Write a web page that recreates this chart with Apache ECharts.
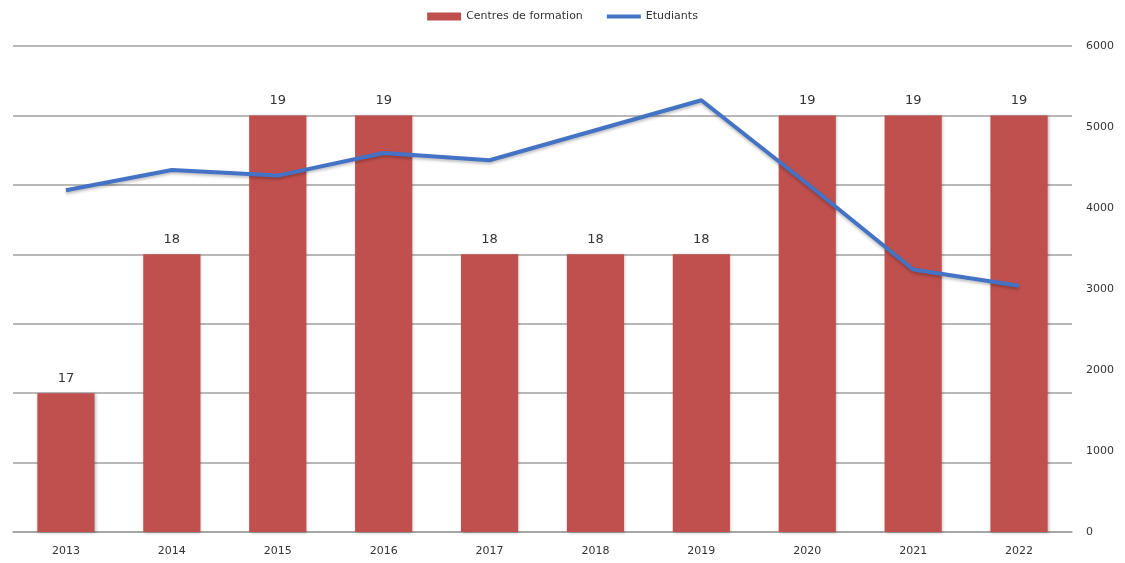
<!DOCTYPE html>
<html>
<head>
<meta charset="utf-8">
<script src="https://cdn.jsdelivr.net/npm/echarts@6/dist/echarts.min.js"></script>
<style>
html,body{margin:0;padding:0;background:#fff;}
#chart{width:1125px;height:563px;}
</style>
</head>
<body>
<div id="chart"></div>
<script>
const years = ['2013','2014','2015','2016','2017','2018','2019','2020','2021','2022'];
const centres = [17,18,19,19,18,18,18,19,19,19];
const etudiants = [4220,4470,4400,4680,4590,4960,5330,4300,3240,3040];
const rightTicks = [0,1000,2000,3000,4000,5000,6000];

const chart = echarts.init(document.getElementById('chart'));
chart.setOption({
  animation: false,
  textStyle: { fontFamily: 'DejaVu Sans' },
  legend: {
    top: 6,
    left: 'center',
    itemWidth: 34,
    itemHeight: 8,
    itemGap: 22,
    textStyle: { fontSize: 11, color: '#333', fontFamily: 'DejaVu Sans' },
    data: [
      { name: 'Centres de formation', icon: 'rect' },
      { name: 'Etudiants', itemStyle: { color: 'transparent', borderColor: 'transparent', borderWidth: 0, opacity: 0 }, lineStyle: { width: 4, color: '#4472C4', shadowBlur: 0 } }
    ]
  },
  grid: { left: 13, right: 53, top: 46, bottom: 31 },
  xAxis: {
    type: 'category',
    data: years,
    axisLine: { show: true, lineStyle: { color: '#a0a0a0', width: 1.5 } },
    axisTick: { show: false },
    axisLabel: { fontSize: 11, color: '#333', margin: 14 }
  },
  yAxis: [
    {
      type: 'value',
      min: 16, max: 19.5, interval: 0.5,
      axisLabel: { show: false },
      axisLine: { show: false },
      axisTick: { show: false },
      splitLine: { show: true, lineStyle: { color: '#a0a0a0', width: 1.5 } }
    },
    {
      type: 'value',
      position: 'right',
      min: rightTicks[0], max: rightTicks[rightTicks.length - 1], interval: 1000,
      axisLabel: { fontSize: 11, color: '#333', margin: 14, formatter: function (v) { return String(v); } },
      axisLine: { show: false },
      axisTick: { show: false },
      splitLine: { show: false }
    }
  ],
  series: [
    {
      name: 'Centres de formation',
      type: 'bar',
      data: centres,
      yAxisIndex: 0,
      barWidth: '54%',
      itemStyle: { color: '#C0504D', shadowColor: 'rgba(0,0,0,0.25)', shadowBlur: 3, shadowOffsetX: 1, shadowOffsetY: 1 },
      label: { show: true, position: 'top', fontSize: 13, color: '#333', distance: 8 }
    },
    {
      name: 'Etudiants',
      type: 'line',
      data: etudiants,
      yAxisIndex: 1,
      symbol: 'none',
      lineStyle: { color: '#4472C4', width: 4, shadowColor: 'rgba(0,0,0,0.25)', shadowBlur: 3, shadowOffsetY: 2 },
      itemStyle: { color: '#4472C4' },
      z: 5
    }
  ]
});
</script>
</body>
</html>
